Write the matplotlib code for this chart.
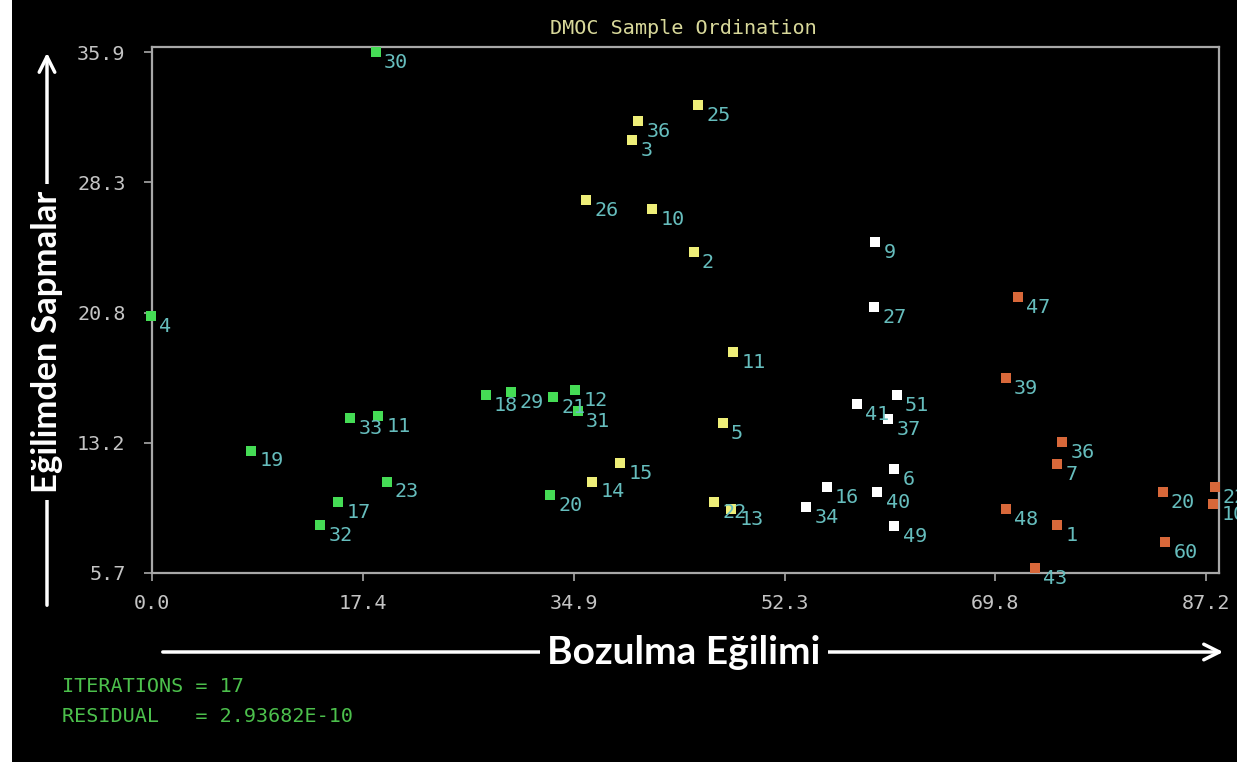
import matplotlib
matplotlib.use("Agg")
import matplotlib.pyplot as plt
from matplotlib.patches import FancyArrowPatch, Rectangle
import numpy as np

# Sample scores on the two ordination axes, grouped by marker colour
green_ids = ["30", "4", "19", "33", "11", "23", "17", "32", "18", "29", "21", "12", "31", "20"]
green_x = [18.5, -0.1, 8.2, 16.4, 18.7, 19.4, 15.4, 13.9, 27.6, 29.7, 33.2, 35.0, 35.2, 32.9]
green_y = [35.9, 20.6, 12.8, 14.7, 14.8, 11.0, 9.8, 8.5, 16.0, 16.2, 15.9, 16.3, 15.1, 10.2]

yellow_ids = ["36", "3", "25", "26", "10", "2", "11", "5", "15", "14", "22", "13"]
yellow_x = [40.2, 39.7, 45.2, 35.9, 41.4, 44.8, 48.1, 47.2, 38.7, 36.4, 46.5, 47.9]
yellow_y = [31.9, 30.8, 32.8, 27.3, 26.8, 24.3, 18.5, 14.4, 12.1, 11.0, 9.8, 9.4]

white_ids = ["9", "27", "41", "51", "37", "6", "16", "34", "40", "49"]
white_x = [59.8, 59.7, 58.3, 61.6, 60.9, 61.4, 55.8, 54.1, 60.0, 61.4]
white_y = [24.9, 21.1, 15.5, 16.0, 14.6, 11.7, 10.7, 9.5, 10.4, 8.4]

orange_ids = ["47", "39", "36", "7", "48", "1", "43", "20", "60", "22", "10"]
orange_x = [71.6, 70.6, 75.3, 74.9, 70.6, 74.9, 73.0, 83.6, 83.8, 87.9, 87.8]
orange_y = [21.7, 17.0, 13.3, 12.0, 9.4, 8.5, 6.0, 10.4, 7.5, 10.7, 9.7]

x_ticks = np.linspace(0.0, 87.2, 6)
x_ticklabels = ["0.0", "17.4", "34.9", "52.3", "69.8", "87.2"]
y_ticks = np.linspace(5.7, 35.9, 5)
y_ticklabels = ["5.7", "13.2", "20.8", "28.3", "35.9"]

W, H = 1237, 762
fig = plt.figure(figsize=(W / 100, H / 100), dpi=100, facecolor="black")
ax = fig.add_axes([152 / W, 1 - 573 / H, (1219 - 152) / W, (573 - 47) / H])
ax.set_facecolor("black")

mono = "DejaVu Sans Mono"
label_color = "#66bdbd"

groups = [
    (green_ids, green_x, green_y, "#45dc55"),
    (yellow_ids, yellow_x, yellow_y, "#eeee78"),
    (white_ids, white_x, white_y, "#ffffff"),
    (orange_ids, orange_x, orange_y, "#d8683a"),
]
for ids, xs, ys, col in groups:
    ax.scatter(xs, ys, marker="s", s=45, color=col, linewidths=0, zorder=3, clip_on=False)
    for name, x, y in zip(ids, xs, ys):
        ax.annotate(name, (x, y), xytext=(6, -7.5), textcoords="offset points",
                    color=label_color, fontsize=14.5, family=mono,
                    ha="left", va="center", annotation_clip=False, zorder=4)

ax.set_xlim(0.0, 88.26)
ax.set_ylim(5.7, 36.19)
ax.set_xticks(x_ticks)
ax.set_xticklabels(x_ticklabels)
ax.set_yticks(y_ticks)
ax.set_yticklabels(y_ticklabels)
for s in ax.spines.values():
    s.set_color("#a8a8a8")
    s.set_linewidth(1.6)
ax.tick_params(axis="both", colors="#a8a8a8", length=6, width=1.2,
               labelcolor="#c4c4c4", labelsize=14.5)
ax.tick_params(axis="x", pad=9)
ax.tick_params(axis="y", pad=13)
for t in ax.get_xticklabels() + ax.get_yticklabels():
    t.set_family(mono)

fig.text(683 / W, 1 - 28 / H, "DMOC Sample Ordination", color="#d8d89a",
         fontsize=14.5, family=mono, ha="center", va="center")

# axis captions with arrows running behind them
bold = dict(color="white", fontweight="bold", family="Lato",
            ha="center", va="center",
            bbox=dict(facecolor="black", edgecolor="none", pad=5))
fig.add_artist(FancyArrowPatch((47 / W, 1 - 608 / H), (47 / W, 1 - 50 / H),
                               transform=fig.transFigure, arrowstyle="->",
                               mutation_scale=28, color="white", lw=2.5))
fig.text(47 / W, 1 - 342 / H, "Eğilimden Sapmalar", rotation=90, fontsize=25, **bold)
fig.add_artist(FancyArrowPatch((160 / W, 1 - 652 / H), (1226 / W, 1 - 652 / H),
                               transform=fig.transFigure, arrowstyle="->",
                               mutation_scale=28, color="white", lw=2.5))
fig.text(684 / W, 1 - 652 / H, "Bozulma Eğilimi", fontsize=28, **bold)

fig.text(62 / W, 1 - 686 / H, "ITERATIONS = 17", color="#4cc04c",
         fontsize=14.5, family=mono, ha="left", va="center")
fig.text(62 / W, 1 - 716 / H, "RESIDUAL   = 2.93682E-10", color="#4cc04c",
         fontsize=14.5, family=mono, ha="left", va="center")

# white strip along the left edge
fig.add_artist(Rectangle((0, 0), 12 / W, 1, transform=fig.transFigure,
                         facecolor="white", edgecolor="none"))

fig.savefig("out.png", dpi=100, facecolor="black")
